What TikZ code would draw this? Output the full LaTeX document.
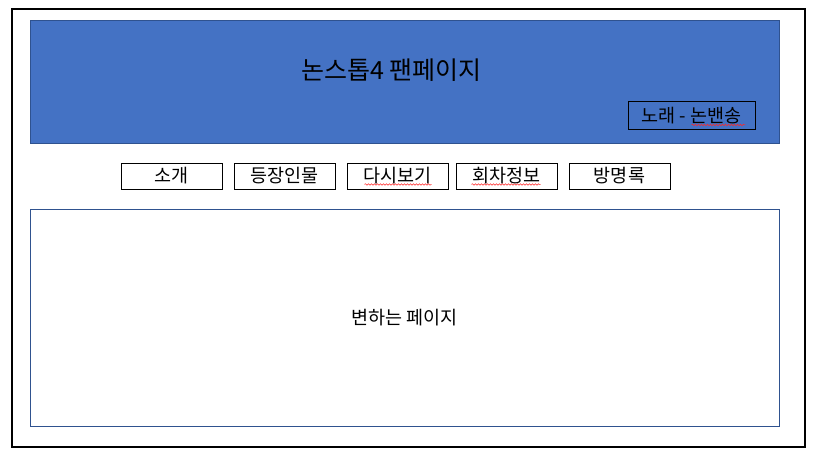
\documentclass[tikz,border=0pt]{standalone}
\usepackage{fontspec}
\setmainfont{Noto Sans CJK KR}
\usetikzlibrary{positioning,calc,decorations.pathmorphing}
\definecolor{hdrblue}{HTML}{4472C4}
\definecolor{hdrline}{HTML}{2F528F}
\tikzstyle{frame} = [draw, line width=1.2pt]
\tikzstyle{header} = [draw=hdrline, fill=hdrblue, line width=0.8pt]
\tikzstyle{menu} = [draw, line width=1pt, minimum width=101pt, minimum height=26pt, inner sep=0pt, font=\fontsize{18.5}{20}\selectfont]
\tikzstyle{song} = [draw, line width=1pt, minimum width=127pt, minimum height=28pt, inner sep=0pt, font=\fontsize{18.5}{20}\selectfont]
\tikzstyle{content} = [draw=hdrline, line width=0.9pt]
\tikzstyle{typo} = [draw=red!85, line width=0.5pt, decorate, decoration={snake, amplitude=0.8pt, segment length=3pt}]

\begin{document}
\begin{tikzpicture}[x=1pt, y=-1pt, node distance=11pt]
	\useasboundingbox (0,0) rectangle (815,452);
	\draw[frame] (12,9) rectangle (805,447);
	% header
	\draw[header] (30,20) rectangle (779,143);
	\node (title) at (391.5,70) {\fontsize{25}{28}\selectfont 논스톱4 팬페이지};
	\node (song) [song] at (691.5,116) {노래 - 논밴송};
	% menu
	\node (m1) [menu] at (171.5,176) {소개};
	\node (m2) [menu, right=of m1] {등장인물};
	\node (m3) [menu, right=of m2] {다시보기};
	\node (m4) [menu, right=7pt of m3] {회차정보};
	\node (m5) [menu, right=of m4] {방명록};
	% content
	\draw[content] (30,209) rectangle (779,426);
	\node (page) at (404.5,318) {\fontsize{18.5}{21}\selectfont 변하는 페이지};
	% spell check marks
	\draw[typo] ([xshift=18pt,yshift=5pt]m3.south west) -- ([xshift=-17pt,yshift=5pt]m3.south east);
	\draw[typo] ([xshift=16pt,yshift=5pt]m4.south west) -- ([xshift=-17pt,yshift=5pt]m4.south east);
	\draw[typo] ([xshift=64pt,yshift=5.5pt]song.south west) -- ([xshift=-10pt,yshift=5.5pt]song.south east);
\end{tikzpicture}
\end{document}
